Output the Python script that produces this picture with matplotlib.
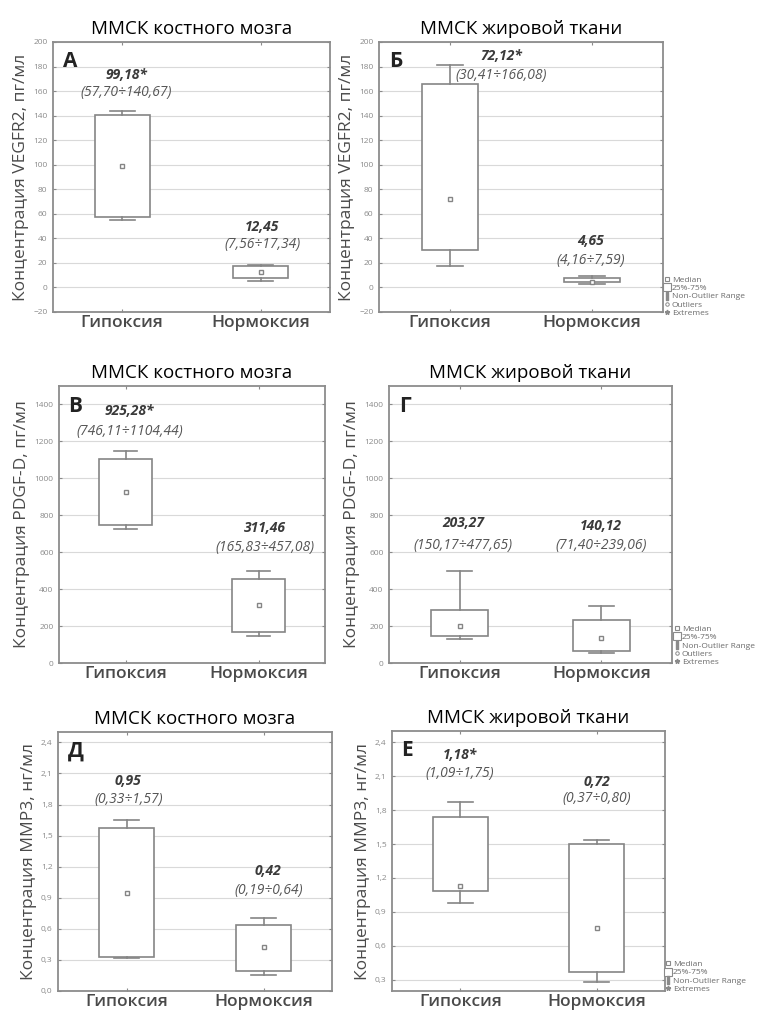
import matplotlib
matplotlib.use("Agg")
import matplotlib.pyplot as plt
from matplotlib.lines import Line2D
import numpy as np

plt.rcParams['font.family'] = ['Open Sans', 'DejaVu Sans']

groups = ['Гипоксия', 'Нормоксия']
titles = ['ММСК костного мозга', 'ММСК жировой ткани']

# box statistics: [гипоксия, нормоксия]
vegf_bm_low = [55, 5.5]
vegf_bm_q1 = [57.7, 7.56]
vegf_bm_med = [99.18, 12.45]
vegf_bm_q3 = [140.67, 17.34]
vegf_bm_high = [144, 18.5]

vegf_at_low = [17.5, 3.0]
vegf_at_q1 = [30.41, 4.16]
vegf_at_med = [72.12, 4.65]
vegf_at_q3 = [166.08, 7.59]
vegf_at_high = [181.5, 9.2]

pdgf_bm_low = [726, 144]
pdgf_bm_q1 = [746.11, 165.83]
pdgf_bm_med = [925.28, 311.46]
pdgf_bm_q3 = [1104.44, 457.08]
pdgf_bm_high = [1150, 496]

pdgf_at_low = [132, 56]
pdgf_at_q1 = [145, 66]
pdgf_at_med = [200, 137]
pdgf_at_q3 = [286, 232]
pdgf_at_high = [496, 307]

mmp_bm_low = [0.316, 0.15]
mmp_bm_q1 = [0.33, 0.19]
mmp_bm_med = [0.95, 0.42]
mmp_bm_q3 = [1.57, 0.64]
mmp_bm_high = [1.655, 0.70]

mmp_at_low = [0.976, 0.279]
mmp_at_q1 = [1.083, 0.365]
mmp_at_med = [1.13, 0.755]
mmp_at_q3 = [1.738, 1.502]
mmp_at_high = [1.871, 1.532]

# annotation texts
vegf_bm_txt = [('99,18*', '(57,70÷140,67)'), ('12,45', '(7,56÷17,34)')]
vegf_at_txt = [('72,12*', '(30,41÷166,08)'), ('4,65', '(4,16÷7,59)')]
pdgf_bm_txt = [('925,28*', '(746,11÷1104,44)'), ('311,46', '(165,83÷457,08)')]
pdgf_at_txt = [('203,27', '(150,17÷477,65)'), ('140,12', '(71,40÷239,06)')]
mmp_bm_txt = [('0,95', '(0,33÷1,57)'), ('0,42', '(0,19÷0,64)')]
mmp_at_txt = [('1,18*', '(1,09÷1,75)'), ('0,72', '(0,37÷0,80)')]

vegf_ticks = np.arange(-20, 201, 20)
pdgf_ticks = np.arange(0, 1401, 200)
mmp_bm_ticks = [0.0, 0.3, 0.6, 0.9, 1.2, 1.5, 1.8, 2.1, 2.4]
mmp_at_ticks = [0.3, 0.6, 0.9, 1.2, 1.5, 1.8, 2.1, 2.4]

W, H = 762, 1011
fig = plt.figure(figsize=(W / 100, H / 100), dpi=100)


def px_axes(l, r, t, b):
    return fig.add_axes([l / W, 1 - b / H, (r - l) / W, (b - t) / H])


gray = '#858585'


def panel(ax, low, q1, med, q3, high, txt, ylim, ticks, ylabel, letter,
          txt_y, txt_x, title, fmt=None):
    stats = [dict(whislo=low[i], q1=q1[i], med=med[i], q3=q3[i],
                  whishi=high[i], fliers=[]) for i in range(2)]
    ax.bxp(stats, positions=[1, 2], widths=0.4, capwidths=0.18,
           showfliers=False, patch_artist=True,
           boxprops=dict(facecolor='white', edgecolor=gray, linewidth=1.2),
           whiskerprops=dict(color=gray, linewidth=1.2),
           capprops=dict(color=gray, linewidth=1.2),
           medianprops=dict(linewidth=0), zorder=3)
    ax.plot([1, 2], med, 's', ms=3.3, mfc='white', mec=gray, mew=1.0, zorder=4)
    ax.set_xlim(0.5, 2.5)
    ax.set_ylim(*ylim)
    ax.set_yticks(ticks)
    if fmt:
        ax.set_yticklabels([fmt(v) for v in ticks])
    ax.set_xticks([1, 2])
    ax.set_xticklabels(groups, fontsize=12.5, color='#4a4a4a', fontweight='semibold')
    ax.tick_params(axis='y', labelsize=6, colors='#8a8a8a', length=2, direction='in',
                   right=True, pad=4)
    ax.tick_params(axis='x', length=2, direction='in', top=True, colors='#8a8a8a',
                   labelcolor='#4a4a4a', pad=2)
    ax.grid(axis='y', color='#d9d9d9', linewidth=0.8, zorder=0)
    for s in ax.spines.values():
        s.set_color('#8c8c8c')
        s.set_linewidth(1.3)
    ax.set_ylabel(ylabel, fontsize=12.5, color='#4a4a4a', labelpad=3)
    ax.text(0.035, 0.965, letter, transform=ax.transAxes, fontsize=15,
            fontweight='bold', va='top', ha='left', color='#222222')
    ax.set_title(title, fontsize=13.5, pad=6)
    for i in range(2):
        ax.text(txt_x[i], txt_y[i][0], txt[i][0], ha='center', va='center',
                fontsize=10, fontweight='bold', fontstyle='italic', color='#3a3a3a')
        ax.text(txt_x[i], txt_y[i][1], txt[i][1], ha='center', va='center',
                fontsize=10, fontstyle='italic', color='#555555')


def comma(v):
    return f'{v:.1f}'.replace('.', ',')


axA = px_axes(53, 330, 42, 312)
panel(axA, vegf_bm_low, vegf_bm_q1, vegf_bm_med, vegf_bm_q3, vegf_bm_high, vegf_bm_txt,
      (-20, 200), vegf_ticks, 'Концентрация VEGFR2, пг/мл', 'А',
      [(173, 159), (49, 35)], [1.03, 2.01], titles[0])

axB = px_axes(379, 663, 42, 312)
panel(axB, vegf_at_low, vegf_at_q1, vegf_at_med, vegf_at_q3, vegf_at_high, vegf_at_txt,
      (-20, 200), vegf_ticks, 'Концентрация VEGFR2, пг/мл', 'Б',
      [(189, 173), (38, 22)], [1.36, 1.99], titles[1])

axC = px_axes(59, 325, 386, 663)
panel(axC, pdgf_bm_low, pdgf_bm_q1, pdgf_bm_med, pdgf_bm_q3, pdgf_bm_high, pdgf_bm_txt,
      (0, 1500), pdgf_ticks, 'Концентрация PDGF-D, пг/мл', 'В',
      [(1364, 1255), (732, 623)], [1.03, 2.05], titles[0])

axD = px_axes(389, 672, 386, 663)
panel(axD, pdgf_at_low, pdgf_at_q1, pdgf_at_med, pdgf_at_q3, pdgf_at_high, pdgf_at_txt,
      (0, 1500), pdgf_ticks, 'Концентрация PDGF-D, пг/мл', 'Г',
      [(759, 636), (741, 636)], [1.025, 2.0], titles[1])

axE = px_axes(58, 332, 732, 991)
panel(axE, mmp_bm_low, mmp_bm_q1, mmp_bm_med, mmp_bm_q3, mmp_bm_high, mmp_bm_txt,
      (0, 2.5), mmp_bm_ticks, 'Концентрация MMP3, нг/мл', 'Д',
      [(2.03, 1.85), (1.155, 0.968)], [1.013, 2.035], titles[0], fmt=comma)

axF = px_axes(392, 665, 731, 991)
panel(axF, mmp_at_low, mmp_at_q1, mmp_at_med, mmp_at_q3, mmp_at_high, mmp_at_txt,
      (0.2, 2.5), mmp_at_ticks, 'Концентрация MMP3, нг/мл', 'Е',
      [(2.29, 2.128), (2.048, 1.90)], [1.0, 2.0], titles[1], fmt=comma)

# small legends like the statistica output
lg_gray = '#8a8a8a'
h_median = Line2D([], [], ls='none', marker='s', ms=3, mfc='white', mec=lg_gray, mew=0.8)
h_box = Line2D([], [], ls='none', marker='s', ms=6, mfc='white', mec=lg_gray, mew=0.8)
h_range = Line2D([], [], ls='none', marker='$\\mathrm{I}$', ms=6, color=lg_gray)
h_out = Line2D([], [], ls='none', marker='o', ms=2.5, mfc='white', mec=lg_gray, mew=0.7)
h_ext = Line2D([], [], ls='none', marker='*', ms=3.5, color=lg_gray)

full = ([h_median, h_box, h_range, h_out, h_ext],
        ['Median', '25%-75%', 'Non-Outlier Range', 'Outliers', 'Extremes'])
short = ([h_median, h_box, h_range, h_ext],
         ['Median', '25%-75%', 'Non-Outlier Range', 'Extremes'])

for (hs, ls), x, y in [(full, 664, 317), (full, 674, 666), (short, 665, 993)]:
    fig.legend(hs, ls, loc='lower left', bbox_to_anchor=(x / W, 1 - y / H),
               frameon=False, fontsize=6, handlelength=0.7, handletextpad=0.25,
               labelspacing=0.05, borderpad=0, borderaxespad=0, labelcolor='#6a6a6a')

fig.savefig('out.png', dpi=100)
